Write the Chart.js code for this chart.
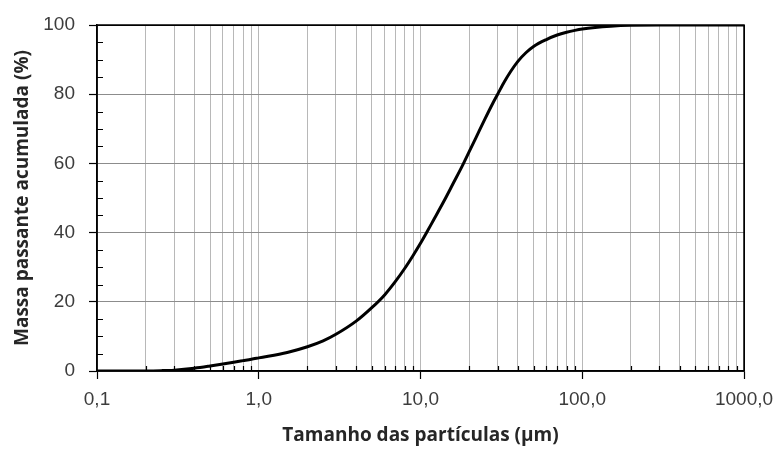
<!DOCTYPE html>
<html>
<head>
<meta charset="utf-8">
<script src="https://cdn.jsdelivr.net/npm/chart.js@4/dist/chart.umd.min.js"></script>
<style>
  html, body { margin: 0; padding: 0; background: #fff; }
  #wrap { width: 779px; height: 449px; }
</style>
</head>
<body>
<div id="wrap"><canvas id="c" width="779" height="449"></canvas></div>
<script>
// Particle size (µm) and cumulative passing mass (%)
const sizes   = [0.1, 0.2, 0.25, 0.3, 0.4, 0.5, 0.6, 0.7, 0.8, 0.9, 1, 1.5, 2, 2.5, 3, 4, 5, 6, 7, 8, 9, 10, 11, 12, 14, 16, 18, 20, 22, 25, 28, 30, 33, 36, 40, 45, 50, 60, 70, 80, 90, 100, 120, 150, 200, 300, 1000];
const passing = [0, 0.02, 0.1, 0.25, 0.8, 1.45, 2.05, 2.55, 3.0, 3.4, 3.8, 5.35, 7.0, 8.7, 10.6, 14.4, 18.3, 22.0, 25.9, 29.7, 33.4, 36.9, 40.3, 43.5, 49.2, 54.4, 59.0, 63.4, 67.4, 72.8, 77.4, 80.0, 83.6, 86.5, 89.5, 92.05, 93.8, 95.8, 97.1, 97.9, 98.45, 98.85, 99.3, 99.65, 99.9, 100, 100];

// Axis ticks
const xMajorTicks  = [0.1, 1, 10, 100, 1000];
const xMajorLabels = ['0,1', '1,0', '10,0', '100,0', '1000,0'];
const xMinorFactors = [2, 3, 4, 5, 6, 7, 8, 9];
const yMajorTicks = [0, 20, 40, 60, 80, 100];
const yMinorStep = 5;

const xAllTicks = [];
xMajorTicks.forEach((d, i) => {
  xAllTicks.push(d);
  if (i < xMajorTicks.length - 1) xMinorFactors.forEach(f => xAllTicks.push(+(d * f).toPrecision(6)));
});
const isXMajor = v => xMajorTicks.some(m => Math.abs(m - v) / m < 1e-6);

const minorTicksPlugin = {
  id: 'minorTicks',
  beforeDatasetsDraw(chart) {
    const { ctx, chartArea: a, scales } = chart;
    ctx.save();
    ctx.strokeStyle = '#000';
    ctx.lineWidth = 1.2;
    ctx.beginPath();
    for (let v = yMinorStep; v < 100; v += yMinorStep) {
      if (yMajorTicks.includes(v)) continue;
      const y = Math.round(scales.y.getPixelForValue(v)) + 0.5;
      ctx.moveTo(a.left, y); ctx.lineTo(a.left + 6, y);
    }
    xAllTicks.forEach(v => {
      if (isXMajor(v)) return;
      const x = Math.round(scales.x.getPixelForValue(v)) + 0.5;
      ctx.moveTo(x, a.bottom); ctx.lineTo(x, a.bottom - 5);
    });
    ctx.stroke();
    ctx.lineWidth = 1.5;
    ctx.strokeRect(a.left, a.top, a.right - a.left, a.bottom - a.top);
    ctx.restore();
  }
};

const tickFont = { family: 'Liberation Sans', size: 19 };
const titleFont = { family: 'Open Sans', size: 19, weight: 'bold' };

new Chart(document.getElementById('c'), {
  type: 'line',
  data: {
    datasets: [{
      data: sizes.map((s, i) => ({ x: s, y: passing[i] })),
      borderColor: '#000',
      borderWidth: 3,
      pointRadius: 0,
      fill: false,
      cubicInterpolationMode: 'monotone'
    }]
  },
  options: {
    responsive: false,
    animation: false,
    devicePixelRatio: 1,
    layout: { padding: { left: 7, right: 35, top: 25, bottom: 0 } },
    plugins: { legend: { display: false }, tooltip: { enabled: false } },
    scales: {
      x: {
        type: 'logarithmic',
        min: 0.1, max: 1000,
        afterBuildTicks: s => { s.ticks = xAllTicks.map(v => ({ value: v, major: isXMajor(v) })); },
        afterFit: s => { s.height = 78; s.paddingLeft = 0; s.paddingRight = 0; },
        ticks: {
          autoSkip: false, maxRotation: 0, minRotation: 0,
          padding: 9,
          color: '#3c3c3c',
          font: tickFont,
          callback: v => { const i = xMajorTicks.findIndex(m => Math.abs(m - v) / m < 1e-6); return i >= 0 ? xMajorLabels[i] : ''; }
        },
        grid: {
          color: c => (c.tick && Math.abs(c.tick.value - 1000) < 1e-6) ? '#000' : '#b8b8b8',
          lineWidth: 1,
          tickLength: 8,
          tickColor: c => (c.tick && isXMajor(c.tick.value)) ? '#000' : 'rgba(0,0,0,0)',
          tickWidth: 1.2
        },
        border: { color: '#000', width: 1.5 },
        title: { display: true, text: 'Tamanho das partículas (µm)', color: '#262626', font: titleFont, padding: { top: 2, bottom: 2 } }
      },
      y: {
        min: 0, max: 100,
        afterBuildTicks: s => { s.ticks = yMajorTicks.map(v => ({ value: v })); },
        afterFit: s => { s.width = 90; s.paddingTop = 0; s.paddingBottom = 0; },
        ticks: { padding: 14, color: '#3c3c3c', font: tickFont },
        grid: {
          color: c => (c.tick && c.tick.value === 100) ? '#000' : '#8c8c8c',
          lineWidth: 1,
          tickLength: 8,
          tickColor: '#000',
          tickWidth: 1.2
        },
        border: { color: '#000', width: 1.5 },
        title: { display: true, text: 'Massa passante acumulada (%)', color: '#262626', font: titleFont, padding: { top: 4, bottom: 4 } }
      }
    }
  },
  plugins: [minorTicksPlugin]
});
</script>
</body>
</html>
